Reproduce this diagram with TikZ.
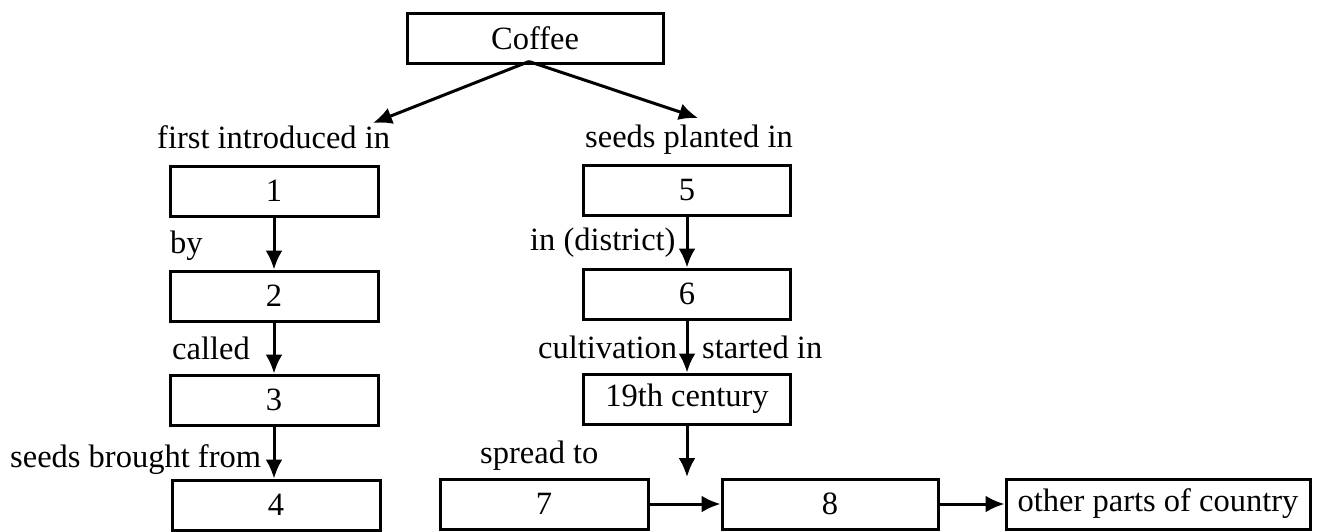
\documentclass[tikz,border=0pt]{standalone}
\usepackage{fontspec}
\setmainfont{Liberation Serif}
\usetikzlibrary{arrows.meta}
\begin{document}
\begin{tikzpicture}[x=1pt,y=-1pt,
  box/.style={draw=black,line width=3pt,minimum width=#1,minimum height=50pt,inner sep=0pt,font=\fontsize{32.5}{38}\selectfont},
  box/.default=208pt,
  lbl/.style={anchor=base west,inner sep=0pt,font=\fontsize{32.5}{38}\selectfont},
  arr/.style={line width=3pt,-{Latex[length=19pt,width=17pt]}}]
\useasboundingbox (0,0) rectangle (1317,531);
\node[box=256pt] (coffee) at (535,38) {Coffee};
\node[box] (b1) at (274,191) {1};
\node[box] (b2) at (274,296) {2};
\node[box] (b3) at (274,400) {3};
\node[box] (b4) at (276,505) {4};
\node[box=207pt] (b5) at (687,190) {5};
\node[box=207pt] (b6) at (687,294) {6};
\node[box=207pt] (b19) at (687,399) {19th century};
\node[box] (b7) at (544,504) {7};
\node[box=216pt] (b8) at (830,504) {8};
\node[box=304pt] (other) at (1158,504) {other parts of country};
\node[lbl] (t1) at (157,148) {first introduced in};
\node[lbl] (t5) at (585,147) {seeds planted in};
\node[lbl] (tby) at (170,253) {by};
\node[lbl] (tcalled) at (172,359) {called};
\node[lbl] (tseeds) at (10,467) {seeds brought from};
\node[lbl] (tdist) at (530,250) {in (district)};
\node[lbl] (tcult) at (538,358) {cultivation};
\node[lbl] (tstart) at (702,358) {started in};
\node[lbl] (tspread) at (480,463) {spread to};
\coordinate (l1) at (373,123);
\coordinate (r1) at (698,118);
\coordinate (c2) at (687,477);
\draw[arr] ([xshift=-6pt,yshift=3pt]coffee.south) -- (l1);
\draw[arr] ([xshift=-6pt,yshift=3pt]coffee.south) -- (r1);
\draw[arr] (b1.south) -- (b2.north);
\draw[arr] (b2.south) -- (b3.north);
\draw[arr] (b3.south) -- (b4.north -| b3.south);
\draw[arr] (b5.south) -- (b6.north);
\draw[arr] (b6.south) -- (b19.north);
\draw[arr] (b19.south) -- (c2);
\draw[arr] (b7.east) -- (b8.west);
\draw[arr] (b8.east) -- (other.west);
\end{tikzpicture}
\end{document}
